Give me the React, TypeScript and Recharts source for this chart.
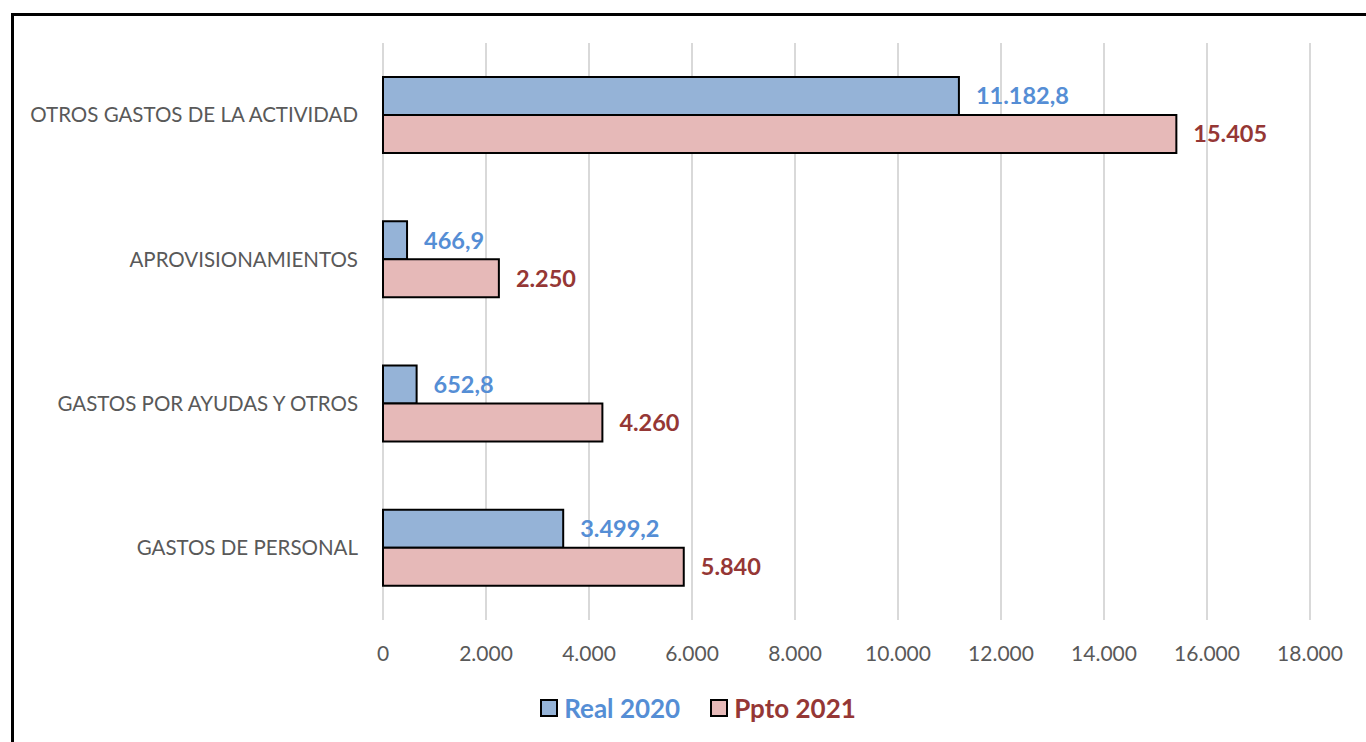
import {
  Bar,
  BarChart,
  CartesianGrid,
  LabelList,
  Legend,
  XAxis,
  YAxis,
} from "recharts";

const categories = [
  "OTROS GASTOS DE LA ACTIVIDAD",
  "APROVISIONAMIENTOS",
  "GASTOS POR AYUDAS Y OTROS",
  "GASTOS DE PERSONAL",
];
const real2020 = [11182.8, 466.9, 652.8, 3499.2];
const ppto2021 = [15405, 2250, 4260, 5840];
const xTicks = [0, 2000, 4000, 6000, 8000, 10000, 12000, 14000, 16000, 18000];

const data = categories.map((name, i) => ({
  name,
  real: real2020[i],
  ppto: ppto2021[i],
}));

const FONT = "Lato, 'Open Sans', sans-serif";
const BLUE = "#558ED5";
const RED = "#953735";

const fmt = (v: number, decimals: number) => {
  const fixed = v.toFixed(decimals);
  const [intPart, dec] = fixed.split(".");
  const withDots = intPart.replace(/\B(?=(\d{3})+(?!\d))/g, ".");
  return dec ? withDots + "," + dec : withDots;
};

const LegendBox = () => (
  <div
    style={{
      display: "flex",
      justifyContent: "center",
      alignItems: "center",
      height: 32,
      paddingLeft: 72,
      fontFamily: FONT,
      fontWeight: 700,
      fontSize: 26,
    }}
  >
    <span
      style={{
        width: 14,
        height: 14,
        background: "#95B3D7",
        border: "2px solid #000",
        marginRight: 6,
      }}
    />
    <span style={{ color: BLUE, marginRight: 30 }}>Real 2020</span>
    <span
      style={{
        width: 14,
        height: 14,
        background: "#E6B9B8",
        border: "2px solid #000",
        marginRight: 6,
      }}
    />
    <span style={{ color: RED }}>Ppto 2021</span>
  </div>
);

export default function App() {
  return (
    <div
      style={{
        position: "fixed",
        left: 11,
        top: 13,
        width: 1400,
        height: 800,
        border: "3px solid #000",
        background: "#fff",
      }}
    >
      <BarChart
        width={1352}
        height={726}
        data={data}
        layout="vertical"
        margin={{ top: 27, right: 56, bottom: 18, left: 0 }}
        barGap={0}
        barSize={38}
      >
        <CartesianGrid
          horizontal={false}
          stroke="#D9D9D9"
          strokeWidth={2}
        />
        <XAxis
          type="number"
          domain={[0, 18000]}
          ticks={xTicks}
          interval={0}
          axisLine={false}
          tickLine={false}
          tickSize={0}
          tickMargin={26}
          height={72}
          tickFormatter={(v) => fmt(v, 0)}
          tick={{ fill: "#595959", fontSize: 21, fontFamily: FONT }}
        />
        <YAxis
          type="category"
          dataKey="name"
          width={369}
          axisLine={false}
          tickLine={false}
          tickSize={0}
          tickMargin={25}
          tick={{ fill: "#595959", fontSize: 20.5, fontFamily: FONT }}
        />
        <Legend verticalAlign="bottom" content={() => <LegendBox />} />
        <Bar
          dataKey="real"
          name="Real 2020"
          fill="#95B3D7"
          stroke="#000"
          strokeWidth={2}
          isAnimationActive={false}
        >
          <LabelList
            dataKey="real"
            position="right"
            offset={17}
            formatter={(v: any) => fmt(Number(v), 1)}
            style={{
              fill: BLUE,
              fontFamily: FONT,
              fontWeight: 700,
              fontSize: 23.5,
            }}
          />
        </Bar>
        <Bar
          dataKey="ppto"
          name="Ppto 2021"
          fill="#E6B9B8"
          stroke="#000"
          strokeWidth={2}
          isAnimationActive={false}
        >
          <LabelList
            dataKey="ppto"
            position="right"
            offset={17}
            formatter={(v: any) => fmt(Number(v), 0)}
            style={{
              fill: RED,
              fontFamily: FONT,
              fontWeight: 700,
              fontSize: 23.5,
            }}
          />
        </Bar>
      </BarChart>
    </div>
  );
}
